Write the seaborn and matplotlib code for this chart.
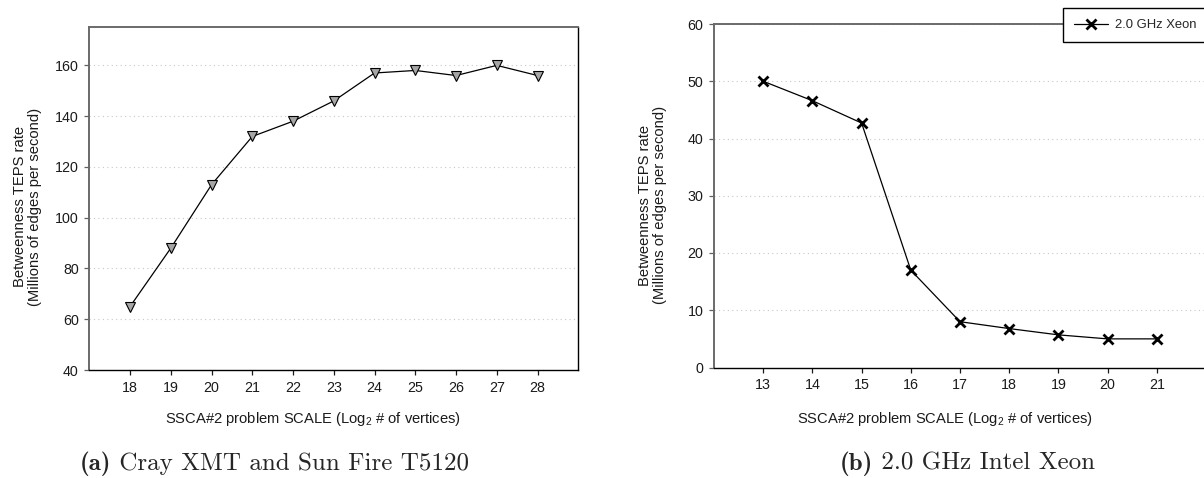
import matplotlib
matplotlib.use("Agg")
import matplotlib.pyplot as plt
import seaborn as sns
import pandas as pd

# ---- data ----
scale_a = [18, 19, 20, 21, 22, 23, 24, 25, 26, 27, 28]
teps_a = [65, 88, 113, 132, 138, 146, 157, 158, 156, 160, 156]

scale_b = [13, 14, 15, 16, 17, 18, 19, 20, 21]
teps_b = [50, 46.6, 42.7, 17, 8.0, 6.8, 5.7, 5.0, 5.0]

legend_b = "2.0 GHz Xeon"
ylabel = "Betweenness TEPS rate\n(Millions of edges per second)"
xlabel = "SSCA#2 problem SCALE (Log$_2$ # of vertices)"
caption_a = ("(a)", "Cray XMT and Sun Fire T5120")
caption_b = ("(b)", "2.0 GHz Intel Xeon")

sns.set_theme(style="white")
plt.rcParams["font.family"] = ["Liberation Sans", "DejaVu Sans"]
plt.rcParams["mathtext.fontset"] = "custom"
plt.rcParams["mathtext.rm"] = "Liberation Sans"
plt.rcParams["mathtext.it"] = "Liberation Sans:italic"
plt.rcParams["mathtext.bf"] = "Liberation Sans:bold"

W, H = 1204, 478
fig = plt.figure(figsize=(W / 100, H / 100), dpi=100)

def px_axes(l, t, r, b):
    return fig.add_axes([l / W, (H - b) / H, (r - l) / W, (b - t) / H])

ax1 = px_axes(89.3, 27.3, 578.3, 370)
ax2 = px_axes(714, 24, 1206, 367.5)

df_a = pd.DataFrame({"scale": scale_a, "teps": teps_a})
df_b = pd.DataFrame({"scale": scale_b, "teps": teps_b})

sns.lineplot(data=df_a, x="scale", y="teps", ax=ax1, color="black", lw=0.9,
             marker="v", markersize=7.5, markerfacecolor="#a6a6a6",
             markeredgecolor="black", markeredgewidth=0.8)
sns.lineplot(data=df_b, x="scale", y="teps", ax=ax2, color="black", lw=0.9,
             marker="x", markersize=6.5, markeredgecolor="black",
             markeredgewidth=2.0, label=legend_b)

def style(ax, xlim, ylim, xticks, yticks, xl_coords, yl_coords):
    ax.set_xlim(*xlim)
    ax.set_ylim(*ylim)
    ax.set_xticks(xticks)
    ax.set_yticks(yticks)
    ax.tick_params(axis="both", which="major", direction="out", length=3.6,
                   width=0.9, labelsize=10.3, colors="#1a1a1a", pad=4,
                   bottom=True, left=True)
    ax.tick_params(axis="y", color="#606060")
    ax.grid(axis="y", linestyle=(0, (1, 3)), color="#c8c8c8", lw=0.8)
    ax.grid(axis="x", visible=False)
    ax.set_axisbelow(True)
    for s in ["left", "top"]:
        ax.spines[s].set_color("#6a6a6a")
        ax.spines[s].set_linewidth(1.4)
    for s in ["right", "bottom"]:
        ax.spines[s].set_color("black")
        ax.spines[s].set_linewidth(1.0)
    ax.set_xlabel(xlabel, fontsize=10.6, color="#1a1a1a")
    ax.set_ylabel(ylabel, fontsize=10.6, color="#1a1a1a", linespacing=1.1)
    ax.xaxis.set_label_coords(*xl_coords)
    ax.yaxis.set_label_coords(*yl_coords)

style(ax1, (17, 29), (40, 175), scale_a, list(range(40, 161, 20)),
      (0.4585, -0.1167), (-0.0967, 0.476))
style(ax2, (12, 22), (0, 60), scale_b, list(range(0, 61, 10)),
      (0.4705, -0.1237), (-0.0955, 0.473))

leg = ax2.legend(loc="upper left", bbox_to_anchor=(1063 / W, 1 - 8 / H),
                 bbox_transform=fig.transFigure, fontsize=9.4, frameon=True,
                 fancybox=False, shadow=False, handlelength=2.6,
                 borderpad=0.85, handletextpad=0.5, borderaxespad=0)
leg.get_frame().set_edgecolor("black")
leg.get_frame().set_linewidth(1.0)
leg.get_frame().set_facecolor("white")
leg.get_frame().set_alpha(1.0)

renderer = fig.canvas.get_renderer()

def caption(cx, parts, size=18):
    base_y = 8 / H
    t1 = fig.text(0, base_y, parts[0], family="cmb10", fontsize=size,
                  ha="left", va="baseline")
    t2 = fig.text(0, base_y, " " + parts[1], family="cmr10", fontsize=size,
                  ha="left", va="baseline")
    w1 = t1.get_window_extent(renderer).width
    w2 = t2.get_window_extent(renderer).width
    x0 = cx - (w1 + w2) / 2
    t1.set_x(x0 / W)
    t2.set_x((x0 + w1) / W)

caption(274.5, caption_a)
caption(967, caption_b)

fig.savefig("out.png", dpi=100)
